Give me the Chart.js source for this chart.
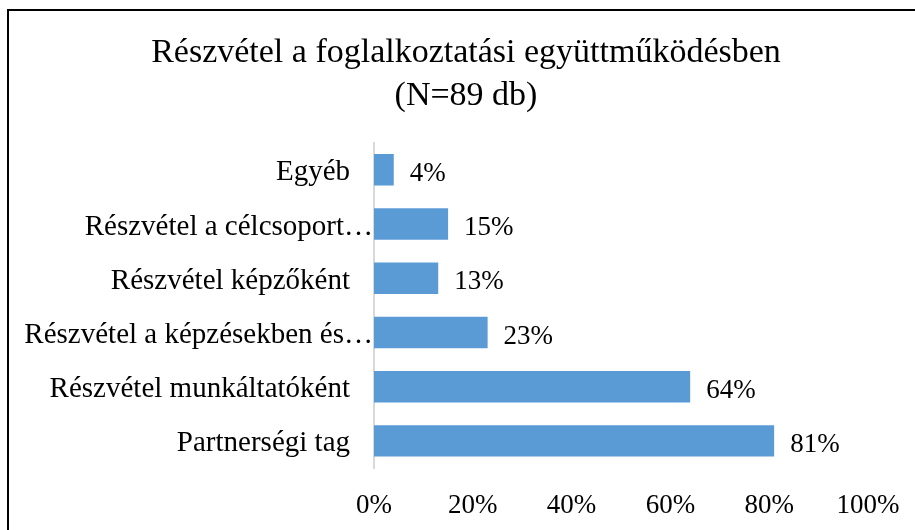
<!DOCTYPE html>
<html>
<head>
<meta charset="utf-8">
<script src="https://cdn.jsdelivr.net/npm/chart.js@4.4.1/dist/chart.umd.min.js"></script>
<style>
html, body { margin: 0; padding: 0; background: #fff; }
</style>
</head>
<body>
<canvas id="myChart" width="915" height="530"></canvas>
<script>
// data
var categories = ['Egyéb', 'Részvétel a célcsoport…', 'Részvétel képzőként', 'Részvétel a képzésekben és…', 'Részvétel munkáltatóként', 'Partnerségi tag'];
var values = [4, 15, 13, 23, 64, 81];
var tickLabels = ['0%', '20%', '40%', '60%', '80%', '100%'];
var titleLines = ['Részvétel a foglalkoztatási együttműködésben', '(N=89 db)'];

var serif = "'Liberation Serif', 'Times New Roman', serif";

// frame around the picture (cut off at right and bottom like the original)
var framePlugin = {
    id: 'frame',
    afterDraw: function(chart) {
        var c = chart.ctx;
        c.save();
        c.strokeStyle = '#000';
        c.lineWidth = 2;
        c.beginPath();
        c.moveTo(8, 540);
        c.lineTo(8, 10);
        c.lineTo(925, 10);
        c.stroke();
        c.restore();
    }
};

// category labels: right aligned, the cut ones run up to the axis
var catLabelPlugin = {
    id: 'catLabels',
    afterDraw: function(chart) {
        var c = chart.ctx;
        var yScale = chart.scales.y;
        var left = chart.chartArea.left;
        c.save();
        c.font = '29px ' + serif;
        c.fillStyle = '#000';
        c.textAlign = 'right';
        c.textBaseline = 'middle';
        categories.forEach(function(lab, i) {
            var y = yScale.getPixelForTick(i) + 3;
            var x = lab.slice(-1) === '…' ? left - 1 : left - 24;
            c.fillText(lab, x, y);
        });
        c.restore();
    }
};

// value labels right of the bars
var valueLabelPlugin = {
    id: 'valueLabels',
    afterDatasetsDraw: function(chart) {
        var c = chart.ctx;
        var meta = chart.getDatasetMeta(0);
        c.save();
        c.font = '27px ' + serif;
        c.fillStyle = '#000';
        c.textAlign = 'left';
        c.textBaseline = 'middle';
        meta.data.forEach(function(bar, i) {
            c.fillText(values[i] + '%', bar.x + 16, bar.y + 4);
        });
        c.restore();
    }
};

var ctx = document.getElementById('myChart').getContext('2d');
var chart = new Chart(ctx, {
    type: 'bar',
    data: {
        labels: categories,
        datasets: [{
            data: values,
            backgroundColor: '#5B9BD5',
            barPercentage: 0.58,
            categoryPercentage: 1
        }]
    },
    options: {
        indexAxis: 'y',
        responsive: false,
        animation: false,
        layout: { padding: { left: 64, right: 47, top: 0, bottom: 0 } },
        plugins: {
            legend: { display: false },
            tooltip: { enabled: false },
            title: {
                display: true,
                text: titleLines,
                color: '#000',
                font: { family: serif, size: 34, weight: 'normal', lineHeight: 1.26 },
                padding: { top: 32, bottom: 25 }
            }
        },
        scales: {
            x: {
                min: 0,
                max: 100,
                grid: { display: false },
                border: { display: false },
                ticks: {
                    stepSize: 20,
                    padding: 14,
                    color: '#000',
                    font: { family: serif, size: 27 },
                    callback: function(v, i) { return tickLabels[i]; }
                },
                afterFit: function(s) { s.height = 62; }
            },
            y: {
                grid: { display: false },
                border: { display: true, color: '#D9D9D9', width: 2 },
                ticks: { display: false },
                afterFit: function(s) { s.width = 310; }
            }
        }
    },
    plugins: [framePlugin, catLabelPlugin, valueLabelPlugin]
});
</script>
</body>
</html>
